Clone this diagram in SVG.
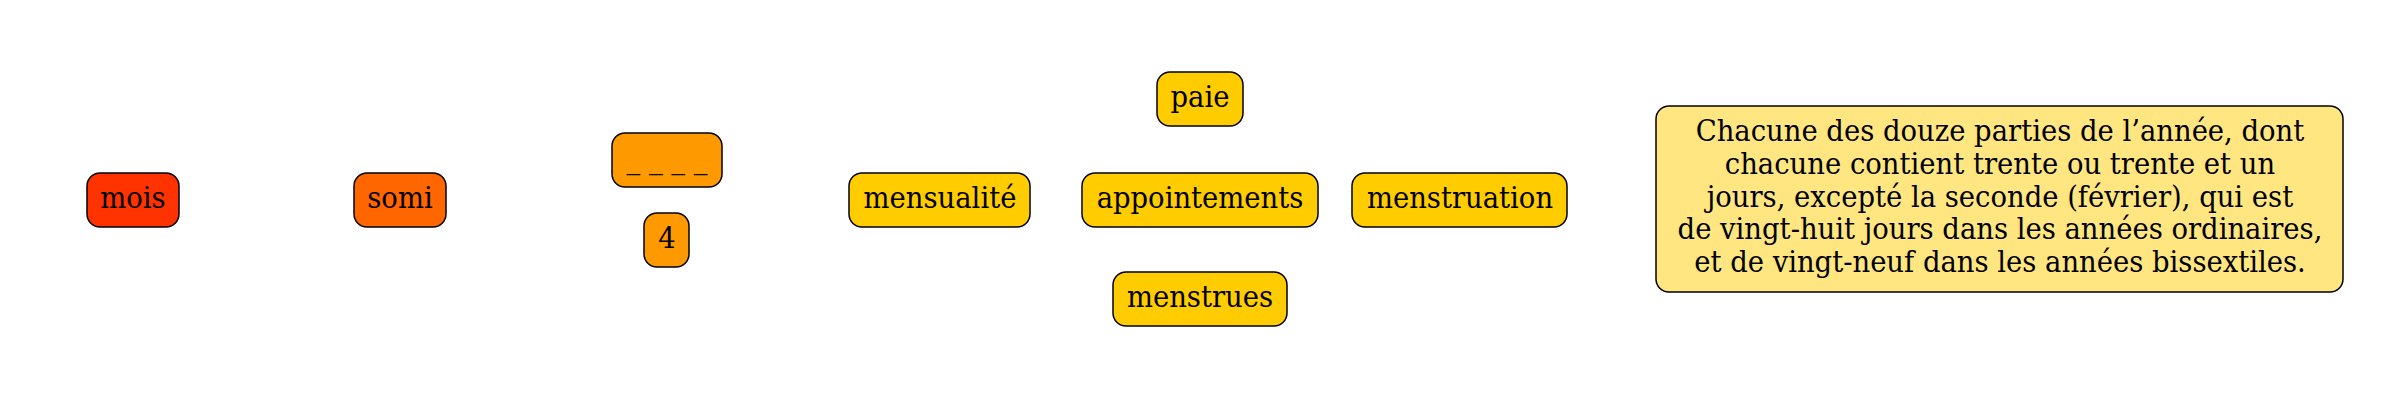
<svg xmlns="http://www.w3.org/2000/svg" width="2400" height="400" viewBox="0 0 2400 400">
<style>
  .n rect { stroke: #000; stroke-width: 1.5; }
  text { font-family: "DejaVu Serif Condensed", "DejaVu Serif", serif; font-stretch: condensed; font-size: 30.5px; text-anchor: middle; fill: #000; }
  .c1 { fill: #ff3300; }
  .c2 { fill: #ff6600; }
  .c3 { fill: #ff9900; }
  .c4 { fill: #ffcc00; }
  .c5 { fill: #ffe680; }
</style>
<rect width="2400" height="400" fill="#fff"/>
<g id="connectors"></g>
<g id="mois" class="n"><rect class="c1" x="87" y="173" width="92" height="54" rx="13"/><text x="133" y="207.5">mois</text></g>
<g id="somi" class="n"><rect class="c2" x="354" y="173" width="92" height="54" rx="13"/><text x="400" y="207.5">somi</text></g>
<g id="blank" class="n"><rect class="c3" x="612" y="133" width="110" height="54" rx="13"/><text x="667" y="167.5">_ _ _ _</text></g>
<g id="four" class="n"><rect class="c3" x="644" y="213" width="45" height="54" rx="13"/><text x="667" y="247.5">4</text></g>
<g id="mensualite" class="n"><rect class="c4" x="849" y="173" width="181" height="54" rx="13"/><text x="940" y="207.5">mensualité</text></g>
<g id="paie" class="n"><rect class="c4" x="1157" y="72" width="86" height="54" rx="13"/><text x="1200" y="106.5">paie</text></g>
<g id="appointements" class="n"><rect class="c4" x="1082" y="173" width="236" height="54" rx="13"/><text x="1200" y="207.5">appointements</text></g>
<g id="menstrues" class="n"><rect class="c4" x="1113" y="272" width="174" height="54" rx="13"/><text x="1200" y="306.5">menstrues</text></g>
<g id="menstruation" class="n"><rect class="c4" x="1352" y="173" width="215" height="54" rx="13"/><text x="1460" y="207.5">menstruation</text></g>
<g id="definition" class="n"><rect class="c5" x="1656" y="106" width="687" height="186" rx="13"/>
<text x="2000" y="141">Chacune des douze parties de l’année, dont</text>
<text x="2000" y="174">chacune contient trente ou trente et un</text>
<text x="2000" y="206.5">jours, excepté la seconde (février), qui est</text>
<text x="2000" y="239">de vingt-huit jours dans les années ordinaires,</text>
<text x="2000" y="272">et de vingt-neuf dans les années bissextiles.</text>
</g>
</svg>
